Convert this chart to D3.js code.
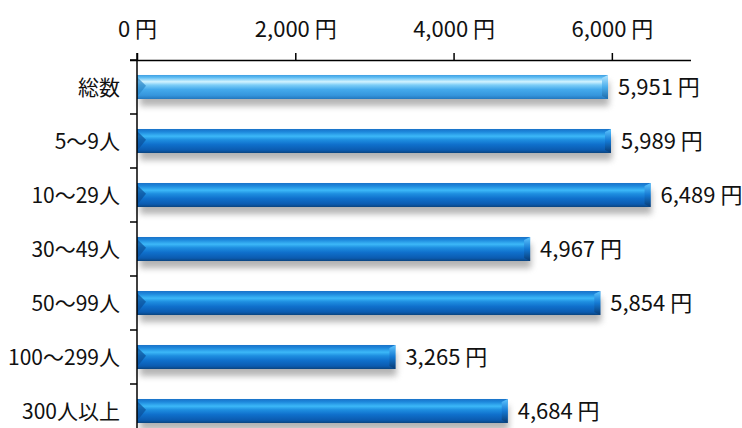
<!DOCTYPE html>
<html><head><meta charset="utf-8">
<script src="https://cdn.jsdelivr.net/npm/d3@7"></script>
<style>
html,body{margin:0;padding:0;background:#fff;}
text{font-family:"Liberation Sans Narrow","Noto Sans CJK JP",sans-serif;fill:#111;}
</style></head>
<body>
<svg id="chart" width="742" height="428"></svg>
<script>
const categories = ["総数","5～9人","10～29人","30～49人","50～99人","100～299人","300人以上"];
const values = [5951,5989,6489,4967,5854,3265,4684];
const tickValues = [0,2000,4000,6000];
const unit = "円";

(function(){
const W = 742, H = 428;
const margin = {left:137, top:60, right:51};
const svg = d3.select("#chart");
const x = d3.scaleLinear().domain([0,7000]).range([margin.left, W - margin.right]);
const y = d3.scaleBand().domain(categories).range([margin.top, margin.top + 54*categories.length]).padding(0);
const barH = y.bandwidth()*0.445;
const fmt = d3.format(",");

const defs = svg.append("defs");
function grad(id, stops){
  const g = defs.append("linearGradient").attr("id",id).attr("x1",0).attr("y1",0).attr("x2",0).attr("y2",1);
  stops.forEach(s=>g.append("stop").attr("offset",s[0]).attr("stop-color",s[1]));
}
grad("gLight",[[0,"#3f9fe2"],[0.1,"#5cbcf3"],[0.28,"#d2f3ff"],[0.42,"#7ccdf7"],[0.6,"#45aaec"],[0.85,"#3595dc"],[1,"#2477bd"]]);
grad("gDark",[[0,"#1a72c8"],[0.12,"#1d88dc"],[0.3,"#3cb8f8"],[0.45,"#1e8ee0"],[0.65,"#0f6fcb"],[0.88,"#0b5bb0"],[1,"#0a447f"]]);
grad("gCapLight",[[0,"#b6e6ff"],[0.5,"#4aaeec"],[1,"#1e6aa8"]]);
grad("gCapDark",[[0,"#5ec6ff"],[0.5,"#1478d2"],[1,"#083a72"]]);
const f = defs.append("filter").attr("id","shadow").attr("x","-5%").attr("y","-50%").attr("width","110%").attr("height","200%");
f.append("feGaussianBlur").attr("stdDeviation",3);

const data = categories.map((c,i)=>({c, v:values[i], i}));
const bars = svg.append("g").selectAll("g").data(data).join("g");
const barTop = d => y(d.c) + (y.bandwidth()-barH)/2;

bars.append("rect")
  .attr("x", x(0)+3).attr("y", d=>barTop(d)+7)
  .attr("width", d=>x(d.v)-x(0)-2).attr("height", barH)
  .attr("fill","#777").attr("opacity",0.55).attr("filter","url(#shadow)");

bars.append("rect")
  .attr("x", x(0)).attr("y", barTop)
  .attr("width", d=>x(d.v)-x(0)).attr("height", barH)
  .attr("fill", d=>d.i===0?"url(#gLight)":"url(#gDark)");

bars.append("path")
  .attr("d", d=>{const t=barTop(d), x0=x(0); return `M${x0},${t+2}L${x0+9},${t+barH*0.45}L${x0},${t+barH-2}Z`;})
  .attr("fill", d=>d.i===0?"#2a86c8":"#0a4f98").attr("opacity",0.7);
bars.append("path")
  .attr("d", d=>{const t=barTop(d), x1=x(d.v); return `M${x1-6},${t+3}L${x1},${t}L${x1},${t+barH}L${x1-6},${t+barH-3}Z`;})
  .attr("fill", d=>d.i===0?"url(#gCapLight)":"url(#gCapDark)");

svg.append("g").selectAll("text").data(data).join("text")
  .attr("x", d=>x(d.v)+10).attr("y", d=>y(d.c)+y.bandwidth()/2)
  .attr("dy","0.36em").attr("font-size",22)
  .text(d=>fmt(d.v)+" "+unit);

const xAxis = d3.axisTop(x).tickValues(tickValues).tickSize(7).tickSizeOuter(0).tickPadding(16)
  .tickFormat(d=>fmt(d)+" "+unit);
const gx = svg.append("g").attr("transform",`translate(0,${margin.top})`).call(xAxis);
gx.selectAll("text").attr("font-size",22).attr("fill","#111").attr("font-family",null);
gx.attr("font-family",null);
gx.selectAll("line,path").attr("stroke","#000").attr("stroke-width",1.5);
gx.select(".domain").attr("d",`M${x(0)-7},0.5H${x(7000)}`);

const gy = svg.append("g");
gy.append("line").attr("x1",x(0)).attr("x2",x(0)).attr("y1",margin.top-7).attr("y2",H+20)
  .attr("stroke","#000").attr("stroke-width",1.5);
const bounds = categories.map(c=>y(c));
gy.selectAll("line.t").data(bounds).join("line").attr("class","t")
  .attr("x1",x(0)-7).attr("x2",x(0)).attr("y1",d=>d).attr("y2",d=>d)
  .attr("stroke","#000").attr("stroke-width",1.5);
gy.selectAll("text").data(categories).join("text")
  .attr("x", x(0)-17).attr("y", d=>y(d)+y.bandwidth()/2).attr("dy","0.36em")
  .attr("text-anchor","end").attr("font-size",21)
  .text(d=>d);
})();
</script>
</body></html>
